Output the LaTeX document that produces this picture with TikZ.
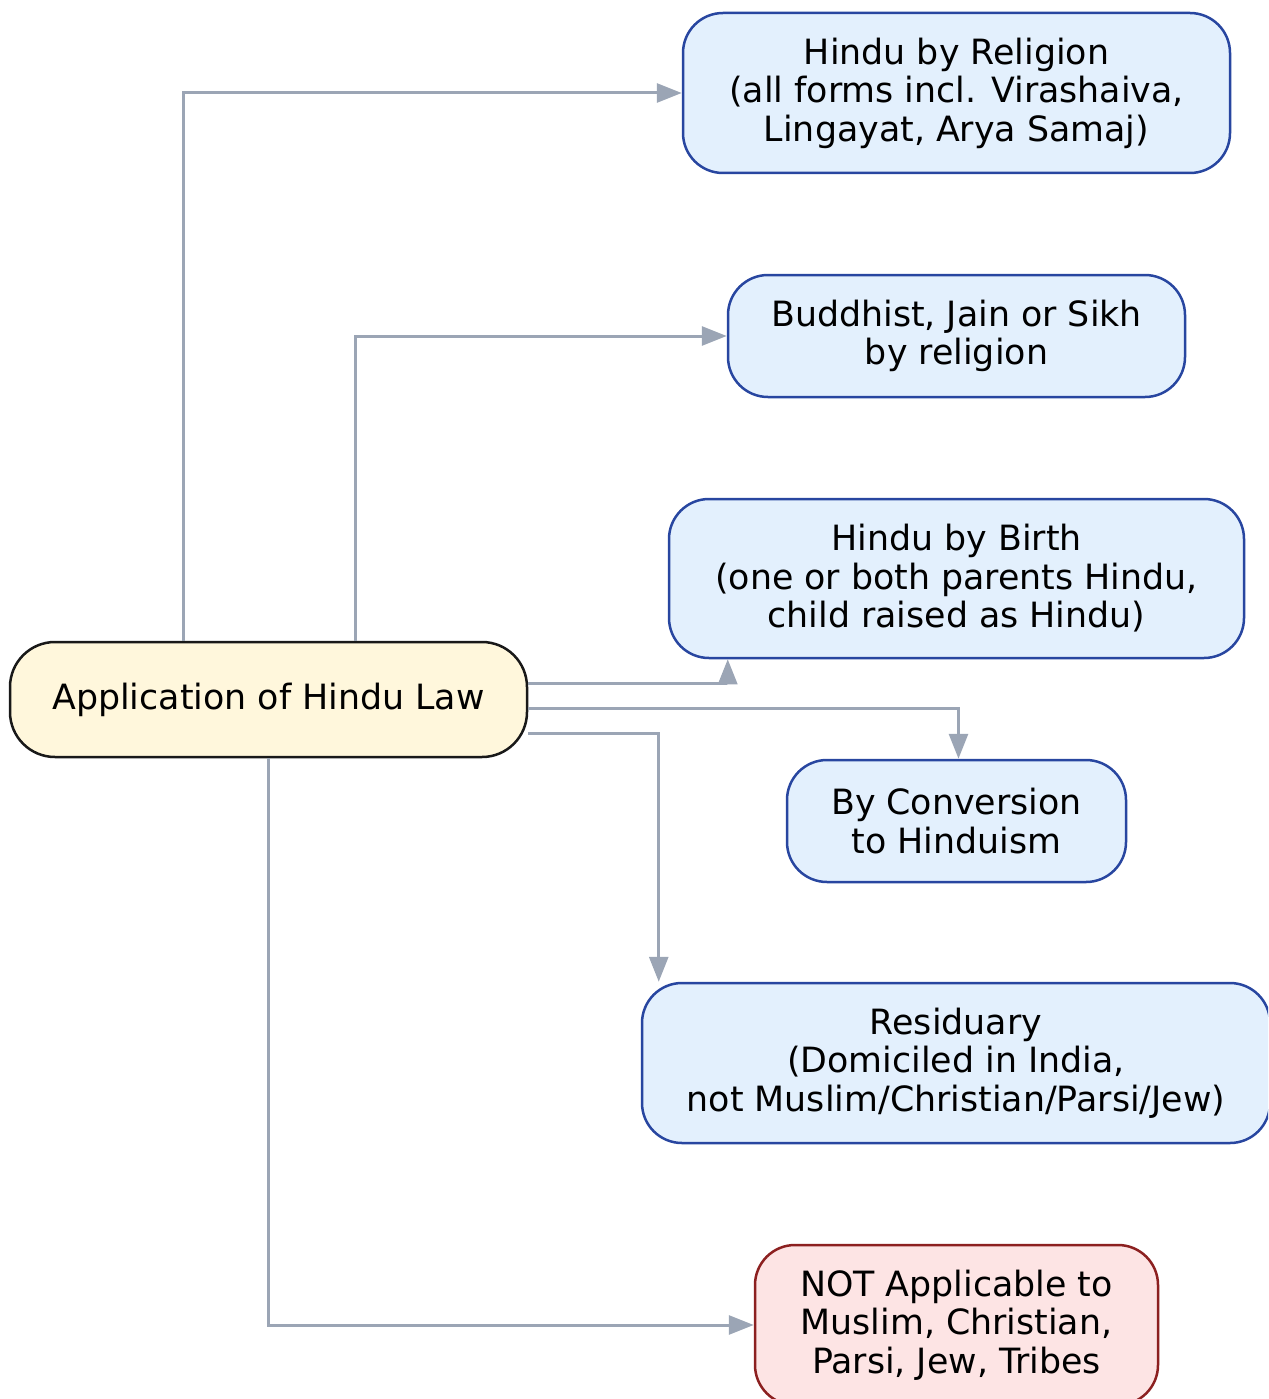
\documentclass[tikz,border=0pt]{standalone}
\usepackage{fontspec}
\setmainfont{DejaVu Sans}
\usetikzlibrary{arrows.meta,calc}
\definecolor{bfill}{RGB}{227,240,253}
\definecolor{bdraw}{RGB}{40,70,160}
\definecolor{rfill}{RGB}{253,228,228}
\definecolor{rdraw}{RGB}{140,32,32}
\definecolor{yfill}{RGB}{255,247,220}
\definecolor{edgec}{RGB}{155,165,181}
\tikzset{
  box/.style={rounded corners=40pt, line width=2.5pt, align=center, inner sep=0pt,
    font=\fontsize{34.8}{38.5}\selectfont},
  bluebox/.style={box, fill=bfill, draw=bdraw},
  redbox/.style={box, fill=rfill, draw=rdraw},
  rootbox/.style={box, fill=yfill, draw=black!90, rounded corners=45pt},
  edge/.style={draw=edgec, line width=3pt, -{Triangle[length=25pt,width=19pt]}}
}
\begin{document}
\begin{tikzpicture}[x=1pt,y=-1pt]
\clip (0,0) rectangle (1268,1399);
\useasboundingbox (0,0) rectangle (1268,1399);
\node[rootbox, minimum width=517pt, minimum height=115pt] (root) at (268.5,699.5) {Application of Hindu Law};
\node[bluebox, minimum width=547pt, minimum height=160pt] (n1) at (956.5,93) {Hindu by Religion\\(all forms incl. Virashaiva,\\Lingayat, Arya Samaj)};
\node[bluebox, minimum width=457pt, minimum height=122pt] (n2) at (956.5,336) {Buddhist, Jain or Sikh\\by religion};
\node[bluebox, minimum width=575pt, minimum height=159pt] (n3) at (956.5,578.5) {Hindu by Birth\\(one or both parents Hindu,\\child raised as Hindu)};
\node[bluebox, minimum width=339pt, minimum height=122pt] (n4) at (956.5,821) {By Conversion\\to Hinduism};
\node[bluebox, minimum width=628pt, minimum height=160pt] (n5) at (956,1063) {Residuary\\(Domiciled in India,\\not Muslim/Christian/Parsi/Jew)};
\node[redbox, minimum width=403pt, minimum height=160pt] (n6) at (956.5,1325) {NOT Applicable to\\Muslim, Christian,\\Parsi, Jew, Tribes};
\draw[edge] ([xshift=-85.5pt]root.north) |- (n1.west);
\draw[edge] ([xshift=86.5pt]root.north) |- (n2.west);
\draw[edge] ([yshift=16.5pt]root.east) -| ([xshift=60pt]n3.south west);
\draw[edge] ([yshift=-8.5pt]root.east) -| ([xshift=2pt]n4.north);
\draw[edge] ([yshift=-33.5pt]root.east) -| ([xshift=18pt]n5.north west);
\draw[edge] (root.south) |- (n6.west);
\end{tikzpicture}
\end{document}
